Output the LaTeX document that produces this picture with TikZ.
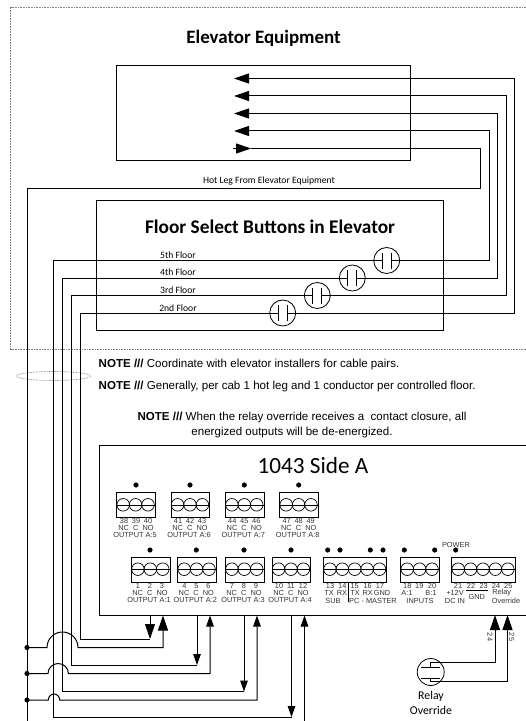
\documentclass[tikz,border=0pt]{standalone}
\usepackage{fontspec}
\setmainfont{Carlito}
\newfontfamily\notefont{Liberation Sans}
\usetikzlibrary{arrows.meta,calc}
\tikzset{
    wire/.style={line width=1bp},
    boxline/.style={draw, line width=1bp},
    zone/.style={gray, line width=0.6bp, dash pattern=on 0.8bp off 0.8bp},
    bigtip/.style={-{Triangle[length=15bp,width=10bp]}},
    smalltip/.style={-{Triangle[length=11bp,width=7.5bp]}},
    termbox/.style={draw, line width=0.8bp, anchor=north west, inner sep=0pt, minimum height=25bp},
    termscrew/.style={draw, circle, line width=0.7bp, inner sep=0pt, minimum size=12.6bp},
    termtext/.style={font=\notefont\fontsize{7.4}{8}\selectfont, inner sep=0pt, text=black!80},
    floortext/.style={font=\fontsize{9.7}{11}\selectfont, inner sep=0pt},
    notetext/.style={font=\notefont\fontsize{11.6}{13}\selectfont, inner sep=0pt},
    swcircle/.style={draw, circle, line width=0.8bp, inner sep=0pt, minimum size=26bp},
}
% one screw terminal block: name, left, top, number of screws
\newcommand{\termblock}[4]{
    \pgfmathsetmacro{\blockw}{13.8+12.4*(#4-1)}
    \node[termbox, minimum width=\blockw bp] (#1) at (#2,#3) {};
    \draw[line width=0.7bp] (#1.west) -- (#1.east);
    \foreach \s in {1,...,#4}
        \node[termscrew] (#1s\s) at ({#2+6.9+12.4*(\s-1)},{#3+12.5}) {};
}
\begin{document}
\begin{tikzpicture}[x=1bp,y=-1bp]
\useasboundingbox (0,0) rectangle (526,721);
% elevator zone
\draw[zone] (526,7) -- (10.5,7) -- (10.5,349.5) -- (526,349.5);
\draw[zone] (53.5,376) ellipse (37 and 4.5);
\node[font=\bfseries\fontsize{19}{21}\selectfont] (title) at (263.5,38) {Elevator Equipment};
\node[boxline, minimum width=294bp, minimum height=95bp, inner sep=0pt] (equip) at (263.5,113) {};
\node[boxline, minimum width=346.5bp, minimum height=129.6bp, inner sep=0pt] (floorbox) at (270.2,265.5) {};
\node[font=\bfseries\fontsize{19.4}{21}\selectfont] (floortitle) at (270,227) {Floor Select Buttons in Elevator};
\node[floortext] (hotlabel) at (269,181) {Hot Leg From Elevator Equipment};
\node[floortext] (lab5) at (178,255) {5th Floor};
\node[floortext] (lab4) at (178,272.5) {4th Floor};
\node[floortext] (lab3) at (178,290) {3rd Floor};
\node[floortext] (lab2) at (178,308) {2nd Floor};
% floor contacts
\foreach \n/\x/\y in {5/386.7/260.5,4/352.3/278,3/317.3/295.5,2/282.7/313}{
    \node[swcircle] (sw\n) at (\x,\y) {};
    \draw[line width=0.8bp] (\x-4.5,\y-8) -- (\x-4.5,\y+8);
    \draw[line width=0.8bp] (\x+4.5,\y-8) -- (\x+4.5,\y+8);
    \coordinate (sw\n l) at (\x-4.5,\y);
    \coordinate (sw\n r) at (\x+4.5,\y);
}
\coordinate (e5) at (234,131);
\coordinate (e4) at (234,113.5);
\coordinate (e3) at (234,96);
\coordinate (e2) at (234,78.5);
\draw[wire,bigtip] (sw5r) -- (489,260.5) -- (489,131) -- (e5);
\draw[wire,bigtip] (sw4r) -- (497.5,278) -- (497.5,113.5) -- (e4);
\draw[wire,bigtip] (sw3r) -- (506,295.5) -- (506,96) -- (e3);
\draw[wire,bigtip] (sw2r) -- (514.5,313) -- (514.5,78.5) -- (e2);
% hot leg
\coordinate (hotin) at (233,148.5);
\coordinate (hottip) at (251,148.5);
\coordinate (dot1) at (27,647.5);
\coordinate (dot2) at (27,673.5);
\coordinate (dot3) at (27,700);
\draw[wire] (hottip) -- (480,148.5) -- (480,188) -- (27,188) -- (27,721);
\draw[wire,bigtip] (hotin) -- (hottip);
\foreach \d in {dot1,dot2,dot3}
    \draw[black,fill] (\d) circle (2.3);
% notes
\node[notetext, anchor=west] (note1) at (98.5,365) {\textbf{NOTE ///} Coordinate with elevator installers for cable pairs.};
\node[notetext, anchor=west] (note2) at (98.5,387) {\textbf{NOTE ///} Generally, per cab 1 hot leg and 1 conductor per controlled floor.};
\node[notetext] (note3) at (302,418) {\textbf{NOTE ///} When the relay override receives a\ \ contact closure, all};
\node[notetext] (note4) at (292,433) {energized outputs will be de-energized.};
% controller
\coordinate (boxbottom) at (99.5,615);
\draw[line width=1bp] (526,445.5) -- (99.5,445.5) -- (boxbottom) -- (526,615);
\node[font=\fontsize{23.3}{26}\selectfont, inner sep=0pt] (side) at (313,465.7) {1043 Side A};
\termblock{out5}{116.3}{492.3}{3}
\termblock{out6}{170.7}{492.3}{3}
\termblock{out7}{225}{492.3}{3}
\termblock{out8}{279.3}{492.3}{3}
\termblock{out1}{131}{556.7}{3}
\termblock{out2}{177.3}{556.7}{3}
\termblock{out3}{225}{556.7}{3}
\termblock{out4}{271.7}{556.7}{3}
\termblock{comms}{323}{556.7}{5}
\termblock{inputs}{400.3}{556.7}{3}
\termblock{power}{451.3}{556.7}{5}
\foreach \x/\y in {136/485,190/485,244.3/485,298.7/485,150/550,196.3/550,244/550,291/550,
    327.7/550,340/550,370.3/550,383/550,404.3/550,434.7/550,455.7/550}
    \draw[black,fill] (\x,\y) circle (2.3);
% output labels, one block per line
\foreach \c/\y/\a/\b/\d/\o/\t in {136/521.3/38/39/40/5/1,190/521.3/41/42/43/6/2,244.3/521.3/44/45/46/7/3,298.7/521.3/47/48/49/8/4,
    150/586/1/2/3/1/5,196.3/586/4/5/6/2/6,244/586/7/8/9/3/7,291/586/10/11/12/4/8}{
    \node[termtext] (num\t a) at (\c-12,\y) {\a};
    \node[termtext] (num\t b) at (\c,\y) {\b};
    \node[termtext] (num\t c) at (\c+12,\y) {\d};
    \node[termtext] (nc\t) at (\c,\y+7) {NC\ \ C\ \ NO};
    \node[termtext] (outname\t) at (\c-1,\y+14) {OUTPUT A:\o};
}
\foreach \x/\n in {330/13,342.3/14,354.7/15,367.7/16,380/17,407.3/18,419.3/19,432/20,458/21,471/22,483.7/23,496/24,508.3/25}
    \node[termtext] (num\n) at (\x,586) {\n};
\foreach \x/\t/\n in {329/TX/a,342/RX/b,355/TX/c,367.7/RX/d,382/GND/e,407/A:1/f,431/B:1/g,455/+12V/h,501.7/Relay/i}
    \node[termtext] (tag\n) at (\x,593) {\t};
\foreach \x/\t/\n in {333/SUB/a,373/PC - MASTER/b,420/INPUTS/c,455/DC IN/d,506/Override/e}
    \node[termtext] (bottom\n) at (\x,600.5) {\t};
\node[termtext] (gnd) at (476.7,596.5) {GND};
\node[termtext] (powerlabel) at (456,544.7) {POWER};
\draw[line width=0.7bp] (466,590.3) -- (487.7,590.3);
\draw[line width=0.7bp] (348.3,581.7) -- (348.3,602);
% returns to the output relays
\coordinate (nc1) at (150,639);
\coordinate (no1) at (163,615.5);
\coordinate (nc2) at (197,665);
\coordinate (no2) at (210,615.5);
\coordinate (nc3) at (244,691.5);
\coordinate (no3) at (257,615.5);
\coordinate (nc4) at (291.5,717);
\coordinate (no4) at (304.5,615.5);
\draw[wire,bigtip] (nc1 |- boxbottom) -- (nc1);
\draw[wire,smalltip] (nc2 |- boxbottom) -- (nc2);
\draw[wire,smalltip] (nc3 |- boxbottom) -- (nc3);
\draw[wire,smalltip] (nc4 |- boxbottom) -- (nc4);
\draw[wire] (sw2l) -- (80,313) -- (80,639) -- (nc1);
\draw[wire] (sw3l) -- (71.5,295.5) -- (71.5,665) -- (nc2);
\draw[wire] (sw4l) -- (62.5,278) -- (62.5,691.5) -- (nc3);
\draw[wire] (sw5l) -- (53,260.5) -- (53,717) -- (nc4);
\draw[wire,bigtip] (dot1) -- (47,647.5) arc[start angle=180,end angle=360,x radius=15.5,y radius=15.5] -- (163,647.5) -- (no1);
\draw[wire,smalltip] (dot2) -- (48,673.5) arc[start angle=180,end angle=360,x radius=10.2,y radius=10] -- (210,673.5) -- (no2);
\draw[wire,smalltip] (dot3) -- (48.3,700) arc[start angle=180,end angle=360,x radius=5.7,y radius=6] -- (257,700) -- (no3);
\draw[wire,smalltip] (304.5,721) -- (no4);
% relay override
\node[draw, circle, line width=0.8bp, inner sep=0pt, minimum size=27bp] (relay) at (430.7,672) {};
\draw[line width=0.8bp] (420.7,667.3) -- (440,667.3);
\draw[line width=0.8bp] (420.7,678) -- (440,678);
\coordinate (in24) at (495,615);
\coordinate (in25) at (507.5,615);
\draw[wire,bigtip] (430.7,667.3) -- (430.7,662.5) -- (495,662.5) -- (in24);
\draw[wire,bigtip] (430.7,678) -- (430.7,681) -- (507.5,681) -- (in25);
\node[termtext, rotate=-90] (lab24) at (490,637) {24};
\node[termtext, rotate=-90] (lab25) at (511.7,637) {25};
\node[floortext, font=\fontsize{11.9}{13}\selectfont] (relaya) at (431,696.7) {Relay};
\node[floortext, font=\fontsize{11.9}{13}\selectfont] (relayb) at (431,710) {Override};
\end{tikzpicture}
\end{document}
